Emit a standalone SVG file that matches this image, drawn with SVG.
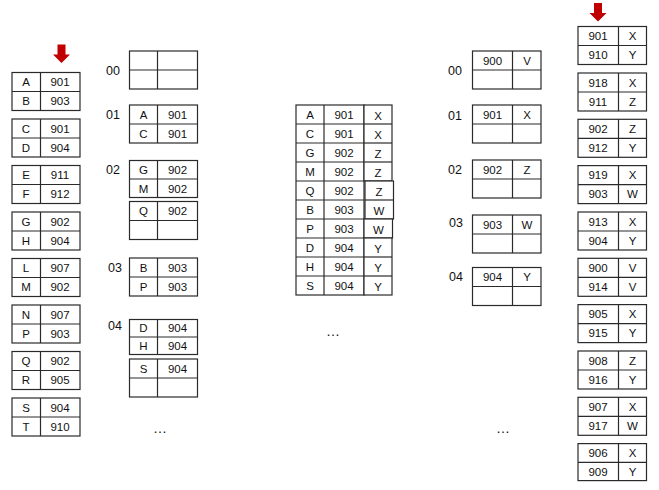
<svg xmlns="http://www.w3.org/2000/svg" width="659" height="490" viewBox="0 0 659 490">
<style>
.c{fill:#fff;stroke:#2a2a2a;stroke-width:1.2}
.l{stroke:#2a2a2a;stroke-width:1.2}
text{font-family:"Liberation Sans",Arial,sans-serif;font-size:11.5px;fill:#111;text-anchor:middle}
.lab{font-size:12.5px;text-anchor:start}
.dots{font-size:14px}
.arr{fill:#c00000}
</style>
<defs>
<polygon id="arrow" class="arr" points="-4,0 4,0 4,10 8.5,10 0,18.5 -8.5,10 -4,10"/>
</defs>
<g id="arrow-left"><use href="#arrow" x="61.5" y="44.5"/></g>
<g id="arrow-right"><use href="#arrow" x="598" y="3"/></g>

<!-- Left column -->
<g id="left-col">
<g id="L1"><rect class="c" x="12" y="72.5" width="68" height="38"/><line class="l" x1="12" y1="91.5" x2="80" y2="91.5"/><line class="l" x1="40.5" y1="72.5" x2="40.5" y2="110.5"/><text x="26" y="86">A</text><text x="60" y="86">901</text><text x="26" y="105">B</text><text x="60" y="105">903</text></g>
<g id="L2"><rect class="c" x="12" y="119" width="68" height="38"/><line class="l" x1="12" y1="138" x2="80" y2="138"/><line class="l" x1="40.5" y1="119" x2="40.5" y2="157"/><text x="26" y="132.5">C</text><text x="60" y="132.5">901</text><text x="26" y="151.5">D</text><text x="60" y="151.5">904</text></g>
<g id="L3"><rect class="c" x="12" y="165.5" width="68" height="38"/><line class="l" x1="12" y1="184.5" x2="80" y2="184.5"/><line class="l" x1="40.5" y1="165.5" x2="40.5" y2="203.5"/><text x="26" y="179">E</text><text x="60" y="179">911</text><text x="26" y="198">F</text><text x="60" y="198">912</text></g>
<g id="L4"><rect class="c" x="12" y="212" width="68" height="38"/><line class="l" x1="12" y1="231" x2="80" y2="231"/><line class="l" x1="40.5" y1="212" x2="40.5" y2="250"/><text x="26" y="225.5">G</text><text x="60" y="225.5">902</text><text x="26" y="244.5">H</text><text x="60" y="244.5">904</text></g>
<g id="L5"><rect class="c" x="12" y="258.5" width="68" height="38"/><line class="l" x1="12" y1="277.5" x2="80" y2="277.5"/><line class="l" x1="40.5" y1="258.5" x2="40.5" y2="296.5"/><text x="26" y="272">L</text><text x="60" y="272">907</text><text x="26" y="291">M</text><text x="60" y="291">902</text></g>
<g id="L6"><rect class="c" x="12" y="305" width="68" height="38"/><line class="l" x1="12" y1="324" x2="80" y2="324"/><line class="l" x1="40.5" y1="305" x2="40.5" y2="343"/><text x="26" y="318.5">N</text><text x="60" y="318.5">907</text><text x="26" y="337.5">P</text><text x="60" y="337.5">903</text></g>
<g id="L7"><rect class="c" x="12" y="351.5" width="68" height="38"/><line class="l" x1="12" y1="370.5" x2="80" y2="370.5"/><line class="l" x1="40.5" y1="351.5" x2="40.5" y2="389.5"/><text x="26" y="365">Q</text><text x="60" y="365">902</text><text x="26" y="384">R</text><text x="60" y="384">905</text></g>
<g id="L8"><rect class="c" x="12" y="398" width="68" height="38"/><line class="l" x1="12" y1="417" x2="80" y2="417"/><line class="l" x1="40.5" y1="398" x2="40.5" y2="436"/><text x="26" y="411.5">S</text><text x="60" y="411.5">904</text><text x="26" y="430.5">T</text><text x="60" y="430.5">910</text></g>
</g>

<!-- Second column: buckets -->
<g id="buckets1">
<text class="lab" x="106" y="75">00</text>
<text class="lab" x="106" y="119">01</text>
<text class="lab" x="106" y="174">02</text>
<text class="lab" x="108" y="272">03</text>
<text class="lab" x="108" y="330">04</text>
<g id="B00"><rect class="c" x="129.5" y="51" width="68" height="38"/><line class="l" x1="129.5" y1="70" x2="197.5" y2="70"/><line class="l" x1="157.5" y1="51" x2="157.5" y2="89"/></g>
<g id="B01"><rect class="c" x="129.5" y="105" width="68" height="38"/><line class="l" x1="129.5" y1="124" x2="197.5" y2="124"/><line class="l" x1="157.5" y1="105" x2="157.5" y2="143"/><text x="143.5" y="118.5">A</text><text x="177.5" y="118.5">901</text><text x="143.5" y="137.5">C</text><text x="177.5" y="137.5">901</text></g>
<g id="B02"><rect class="c" x="129.5" y="160.5" width="68" height="37"/><line class="l" x1="129.5" y1="179" x2="197.5" y2="179"/><line class="l" x1="157.5" y1="160.5" x2="157.5" y2="197.5"/><text x="143.5" y="174">G</text><text x="177.5" y="174">902</text><text x="143.5" y="192.5">M</text><text x="177.5" y="192.5">902</text></g>
<g id="B02b"><rect class="c" x="129.5" y="201.5" width="68" height="38"/><line class="l" x1="129.5" y1="220.5" x2="197.5" y2="220.5"/><line class="l" x1="157.5" y1="201.5" x2="157.5" y2="239.5"/><text x="143.5" y="215">Q</text><text x="177.5" y="215">902</text></g>
<g id="B03"><rect class="c" x="129.5" y="258" width="68" height="38"/><line class="l" x1="129.5" y1="277" x2="197.5" y2="277"/><line class="l" x1="157.5" y1="258" x2="157.5" y2="296"/><text x="143.5" y="271.5">B</text><text x="177.5" y="271.5">903</text><text x="143.5" y="290.5">P</text><text x="177.5" y="290.5">903</text></g>
<g id="B04"><rect class="c" x="129.5" y="319.5" width="68" height="35"/><line class="l" x1="129.5" y1="337" x2="197.5" y2="337"/><line class="l" x1="157.5" y1="319.5" x2="157.5" y2="354.5"/><text x="143.5" y="332">D</text><text x="177.5" y="332">904</text><text x="143.5" y="349.5">H</text><text x="177.5" y="349.5">904</text></g>
<g id="B04b"><rect class="c" x="129.5" y="359" width="68" height="38"/><line class="l" x1="129.5" y1="378" x2="197.5" y2="378"/><line class="l" x1="157.5" y1="359" x2="157.5" y2="397"/><text x="143.5" y="372.5">S</text><text x="177.5" y="372.5">904</text></g>
<text class="dots" x="160" y="433">…</text>
</g>

<!-- Middle table -->
<g id="middle">
<rect class="c" x="296" y="105" width="68" height="190"/>
<line class="l" x1="324" y1="105" x2="324" y2="295"/>
<line class="l" x1="296" y1="124" x2="364" y2="124"/>
<line class="l" x1="296" y1="143" x2="364" y2="143"/>
<line class="l" x1="296" y1="162" x2="364" y2="162"/>
<line class="l" x1="296" y1="181" x2="364" y2="181"/>
<line class="l" x1="296" y1="200" x2="364" y2="200"/>
<line class="l" x1="296" y1="219" x2="364" y2="219"/>
<line class="l" x1="296" y1="238" x2="364" y2="238"/>
<line class="l" x1="296" y1="257" x2="364" y2="257"/>
<line class="l" x1="296" y1="276" x2="364" y2="276"/>
<rect class="c" x="364" y="105" width="28" height="76"/>
<line class="l" x1="364" y1="124" x2="392" y2="124"/>
<line class="l" x1="364" y1="143" x2="392" y2="143"/>
<line class="l" x1="364" y1="162" x2="392" y2="162"/>
<rect class="c" x="365" y="181" width="28.5" height="38"/>
<line class="l" x1="365" y1="200" x2="393.5" y2="200"/>
<rect class="c" x="364" y="219" width="28.5" height="19"/>
<rect class="c" x="364" y="238" width="28" height="57"/>
<line class="l" x1="364" y1="257" x2="392" y2="257"/>
<line class="l" x1="364" y1="276" x2="392" y2="276"/>
<text x="310" y="118.5">A</text><text x="344" y="118.5">901</text><text x="378" y="119.5">X</text>
<text x="310" y="137.5">C</text><text x="344" y="137.5">901</text><text x="378" y="138.5">X</text>
<text x="310" y="156.5">G</text><text x="344" y="156.5">902</text><text x="378" y="157.5">Z</text>
<text x="310" y="175.5">M</text><text x="344" y="175.5">902</text><text x="378" y="176.5">Z</text>
<text x="310" y="194.5">Q</text><text x="344" y="194.5">902</text><text x="379" y="195.5">Z</text>
<text x="310" y="213.5">B</text><text x="344" y="213.5">903</text><text x="379" y="214.5">W</text>
<text x="310" y="232.5">P</text><text x="344" y="232.5">903</text><text x="378.5" y="233.5">W</text>
<text x="310" y="251.5">D</text><text x="344" y="251.5">904</text><text x="378" y="252.5">Y</text>
<text x="310" y="270.5">H</text><text x="344" y="270.5">904</text><text x="378" y="271.5">Y</text>
<text x="310" y="289.5">S</text><text x="344" y="289.5">904</text><text x="378" y="290.5">Y</text>
<text class="dots" x="333" y="336">…</text>
</g>

<!-- Right buckets -->
<g id="buckets2">
<text class="lab" x="448" y="75">00</text>
<text class="lab" x="448" y="120">01</text>
<text class="lab" x="448" y="174">02</text>
<text class="lab" x="449" y="227">03</text>
<text class="lab" x="449" y="281">04</text>
<g id="R00"><rect class="c" x="472.5" y="51" width="68.5" height="38"/><line class="l" x1="472.5" y1="70" x2="541" y2="70"/><line class="l" x1="512.5" y1="51" x2="512.5" y2="89"/><text x="492.5" y="64.5">900</text><text x="527" y="64.5">V</text></g>
<g id="R01"><rect class="c" x="472.5" y="105" width="68.5" height="38"/><line class="l" x1="472.5" y1="124" x2="541" y2="124"/><line class="l" x1="512.5" y1="105" x2="512.5" y2="143"/><text x="492.5" y="118.5">901</text><text x="527" y="118.5">X</text></g>
<g id="R02"><rect class="c" x="472.5" y="160" width="68.5" height="38"/><line class="l" x1="472.5" y1="179" x2="541" y2="179"/><line class="l" x1="512.5" y1="160" x2="512.5" y2="198"/><text x="492.5" y="173.5">902</text><text x="527" y="173.5">Z</text></g>
<g id="R03"><rect class="c" x="472.5" y="215" width="68.5" height="38"/><line class="l" x1="472.5" y1="234" x2="541" y2="234"/><line class="l" x1="512.5" y1="215" x2="512.5" y2="253"/><text x="492.5" y="228.5">903</text><text x="527" y="228.5">W</text></g>
<g id="R04"><rect class="c" x="472.5" y="267.5" width="68.5" height="38"/><line class="l" x1="472.5" y1="286.5" x2="541" y2="286.5"/><line class="l" x1="512.5" y1="267.5" x2="512.5" y2="305.5"/><text x="492.5" y="281">904</text><text x="527" y="281">Y</text></g>
<text class="dots" x="503" y="433">…</text>
</g>

<!-- Far right column -->
<g id="right-col">
<g id="F1"><rect class="c" x="578" y="26.5" width="68.5" height="38"/><line class="l" x1="578" y1="45.5" x2="646.5" y2="45.5"/><line class="l" x1="618.5" y1="26.5" x2="618.5" y2="64.5"/><text x="598" y="40">901</text><text x="632.5" y="40">X</text><text x="598" y="59">910</text><text x="632.5" y="59">Y</text></g>
<g id="F2"><rect class="c" x="578" y="73" width="68.5" height="38"/><line class="l" x1="578" y1="92" x2="646.5" y2="92"/><line class="l" x1="618.5" y1="73" x2="618.5" y2="111"/><text x="598" y="86.5">918</text><text x="632.5" y="86.5">X</text><text x="598" y="105.5">911</text><text x="632.5" y="105.5">Z</text></g>
<g id="F3"><rect class="c" x="578" y="119.3" width="68.5" height="38"/><line class="l" x1="578" y1="138.3" x2="646.5" y2="138.3"/><line class="l" x1="618.5" y1="119.3" x2="618.5" y2="157.3"/><text x="598" y="132.8">902</text><text x="632.5" y="132.8">Z</text><text x="598" y="151.8">912</text><text x="632.5" y="151.8">Y</text></g>
<g id="F4"><rect class="c" x="578" y="165.6" width="68.5" height="38"/><line class="l" x1="578" y1="184.6" x2="646.5" y2="184.6"/><line class="l" x1="618.5" y1="165.6" x2="618.5" y2="203.6"/><text x="598" y="179.1">919</text><text x="632.5" y="179.1">X</text><text x="598" y="198.1">903</text><text x="632.5" y="198.1">W</text></g>
<g id="F5"><rect class="c" x="578" y="212" width="68.5" height="38"/><line class="l" x1="578" y1="231" x2="646.5" y2="231"/><line class="l" x1="618.5" y1="212" x2="618.5" y2="250"/><text x="598" y="225.5">913</text><text x="632.5" y="225.5">X</text><text x="598" y="244.5">904</text><text x="632.5" y="244.5">Y</text></g>
<g id="F6"><rect class="c" x="578" y="258.3" width="68.5" height="38"/><line class="l" x1="578" y1="277.3" x2="646.5" y2="277.3"/><line class="l" x1="618.5" y1="258.3" x2="618.5" y2="296.3"/><text x="598" y="271.8">900</text><text x="632.5" y="271.8">V</text><text x="598" y="290.8">914</text><text x="632.5" y="290.8">V</text></g>
<g id="F7"><rect class="c" x="578" y="304.6" width="68.5" height="38"/><line class="l" x1="578" y1="323.6" x2="646.5" y2="323.6"/><line class="l" x1="618.5" y1="304.6" x2="618.5" y2="342.6"/><text x="598" y="318.1">905</text><text x="632.5" y="318.1">X</text><text x="598" y="337.1">915</text><text x="632.5" y="337.1">Y</text></g>
<g id="F8"><rect class="c" x="578" y="351" width="68.5" height="38"/><line class="l" x1="578" y1="370" x2="646.5" y2="370"/><line class="l" x1="618.5" y1="351" x2="618.5" y2="389"/><text x="598" y="364.5">908</text><text x="632.5" y="364.5">Z</text><text x="598" y="383.5">916</text><text x="632.5" y="383.5">Y</text></g>
<g id="F9"><rect class="c" x="578" y="397.3" width="68.5" height="38"/><line class="l" x1="578" y1="416.3" x2="646.5" y2="416.3"/><line class="l" x1="618.5" y1="397.3" x2="618.5" y2="435.3"/><text x="598" y="410.8">907</text><text x="632.5" y="410.8">X</text><text x="598" y="429.8">917</text><text x="632.5" y="429.8">W</text></g>
<g id="F10"><rect class="c" x="578" y="443.6" width="68.5" height="37"/><line class="l" x1="578" y1="462.3" x2="646.5" y2="462.3"/><line class="l" x1="618.5" y1="443.6" x2="618.5" y2="480.6"/><text x="598" y="457">906</text><text x="632.5" y="457">X</text><text x="598" y="475.8">909</text><text x="632.5" y="475.8">Y</text></g>
</g>
</svg>
